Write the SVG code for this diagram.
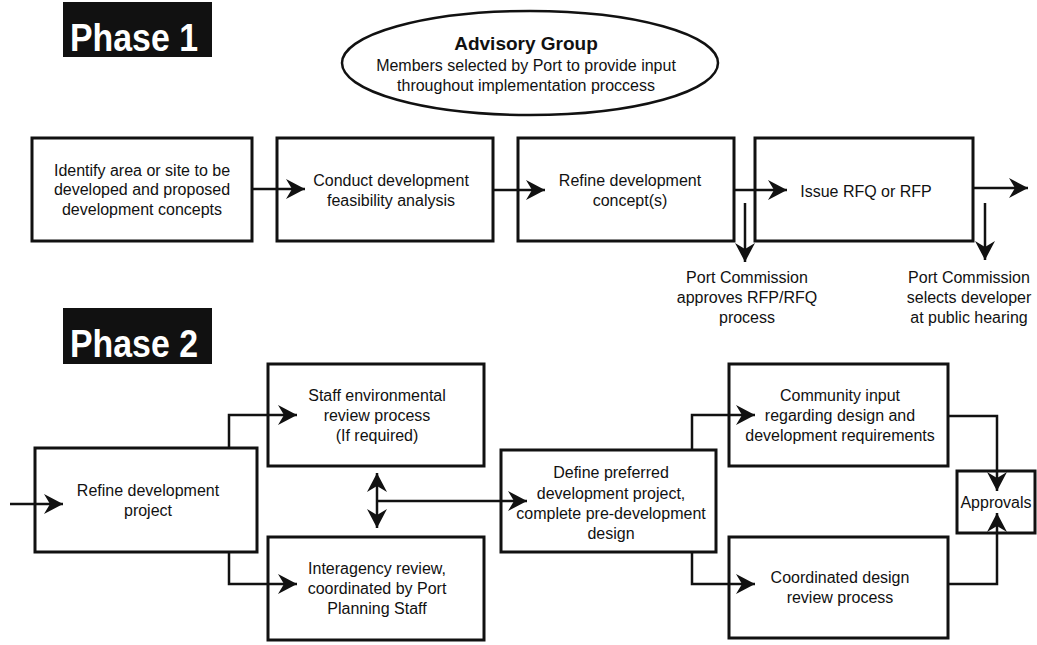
<svg xmlns="http://www.w3.org/2000/svg" width="1037" height="645" viewBox="0 0 1037 645">
<style>
.bg{fill:#fff}
.box{fill:#fff;stroke:#111;stroke-width:3}
.t{font-family:"Liberation Sans",Arial,sans-serif;font-size:16px;fill:#111;text-anchor:middle}
.tb{font-family:"Liberation Sans",Arial,sans-serif;font-size:19px;font-weight:bold;fill:#111;text-anchor:middle}
.ph{fill:#111}
.pht{font-family:"Liberation Sans",Arial,sans-serif;font-size:38px;font-weight:bold;fill:#fff}
.c{fill:none;stroke:#111;stroke-width:2.5}
.a{marker-end:url(#ah)}
.aa{marker-start:url(#ah);marker-end:url(#ah)}
</style>
<defs>
<marker id="ah" markerUnits="userSpaceOnUse" markerWidth="22" markerHeight="22" refX="19" refY="10" orient="auto-start-reverse" viewBox="0 0 22 22">
<path d="M0,0 L19,10 L0,20 L6,10 Z" fill="#111"/>
</marker>
</defs>
<rect class="bg" x="0" y="0" width="1037" height="645"/>

<g id="phase1">
<rect class="ph" x="63" y="2" width="149" height="55"/>
<text class="pht" x="70" y="51" textLength="128" lengthAdjust="spacingAndGlyphs">Phase 1</text>
</g>
<g id="phase2">
<rect class="ph" x="63" y="308" width="149" height="56"/>
<text class="pht" x="70" y="357" textLength="128" lengthAdjust="spacingAndGlyphs">Phase 2</text>
</g>

<g id="advisory">
<ellipse cx="530" cy="63" rx="188" ry="52" fill="#fff" stroke="#111" stroke-width="2.5"/>
<text class="tb" x="526" y="50">Advisory Group</text>
<text class="t" x="526" y="71">Members selected by Port to provide input</text>
<text class="t" x="526" y="91">throughout implementation proccess</text>
</g>

<g id="n-identify">
<rect class="box" x="32" y="138" width="220" height="103"/>
<text class="t" x="142" y="176">Identify area or site to be</text>
<text class="t" x="142" y="195">developed and proposed</text>
<text class="t" x="142" y="215">development concepts</text>
</g>
<g id="n-feasibility">
<rect class="box" x="277" y="138" width="216" height="103"/>
<text class="t" x="391" y="186">Conduct development</text>
<text class="t" x="391" y="206">feasibility analysis</text>
</g>
<g id="n-refine-concept">
<rect class="box" x="518" y="138" width="216" height="103"/>
<text class="t" x="630" y="186">Refine development</text>
<text class="t" x="630" y="206">concept(s)</text>
</g>
<g id="n-issue">
<rect class="box" x="755" y="138" width="218" height="103"/>
<text class="t" x="866" y="197">Issue RFQ or RFP</text>
</g>
<g id="l-approves">
<text class="t" x="747" y="283">Port Commission</text>
<text class="t" x="747" y="303">approves RFP/RFQ</text>
<text class="t" x="747" y="323">process</text>
</g>
<g id="l-selects">
<text class="t" x="969" y="283">Port Commission</text>
<text class="t" x="969" y="303">selects developer</text>
<text class="t" x="969" y="323">at public hearing</text>
</g>

<g id="n-refine-project">
<rect class="box" x="35" y="448" width="222" height="104"/>
<text class="t" x="148" y="496">Refine development</text>
<text class="t" x="148" y="516">project</text>
</g>
<g id="n-staff-env">
<rect class="box" x="268" y="364" width="216" height="102"/>
<text class="t" x="377" y="401">Staff environmental</text>
<text class="t" x="377" y="421">review process</text>
<text class="t" x="377" y="441">(If required)</text>
</g>
<g id="n-interagency">
<rect class="box" x="268" y="537" width="216" height="103"/>
<text class="t" x="377" y="574">Interagency review,</text>
<text class="t" x="377" y="594">coordinated by Port</text>
<text class="t" x="377" y="614">Planning Staff</text>
</g>
<g id="n-define">
<rect class="box" x="501" y="450" width="215" height="102"/>
<text class="t" x="611" y="478">Define preferred</text>
<text class="t" x="611" y="499">development project,</text>
<text class="t" x="611" y="519">complete pre-development</text>
<text class="t" x="611" y="539">design</text>
</g>
<g id="n-community">
<rect class="box" x="729" y="364" width="219" height="102"/>
<text class="t" x="840" y="401">Community input</text>
<text class="t" x="840" y="421">regarding design and</text>
<text class="t" x="840" y="441">development requirements</text>
</g>
<g id="n-coordinated">
<rect class="box" x="729" y="537" width="219" height="101"/>
<text class="t" x="840" y="583">Coordinated design</text>
<text class="t" x="840" y="603">review process</text>
</g>
<g id="n-approvals">
<rect class="box" x="957" y="471" width="78" height="62"/>
<text class="t" x="996" y="508">Approvals</text>
</g>

<g id="connectors">
<line class="c a" x1="252" y1="189" x2="305" y2="189"/>
<line class="c a" x1="493" y1="190" x2="545" y2="190"/>
<line class="c a" x1="734" y1="190" x2="787" y2="190"/>
<line class="c a" x1="973" y1="188" x2="1028" y2="188"/>
<line class="c a" x1="745" y1="203" x2="745" y2="262"/>
<line class="c a" x1="985" y1="203" x2="985" y2="260"/>

<line class="c a" x1="10" y1="504" x2="63" y2="504"/>
<polyline class="c a" points="229,448 229,415 297,415"/>
<polyline class="c a" points="229,552 229,584 297,584"/>
<line class="c aa" x1="377" y1="473" x2="377" y2="528"/>
<line class="c a" x1="377" y1="501" x2="527" y2="501"/>
<polyline class="c a" points="692,450 692,415 755,415"/>
<polyline class="c a" points="692,552 692,584 755,584"/>
<polyline class="c a" points="948,416 997,416 997,491"/>
<polyline class="c a" points="948,584 997,584 997,513"/>
</g>
</svg>
